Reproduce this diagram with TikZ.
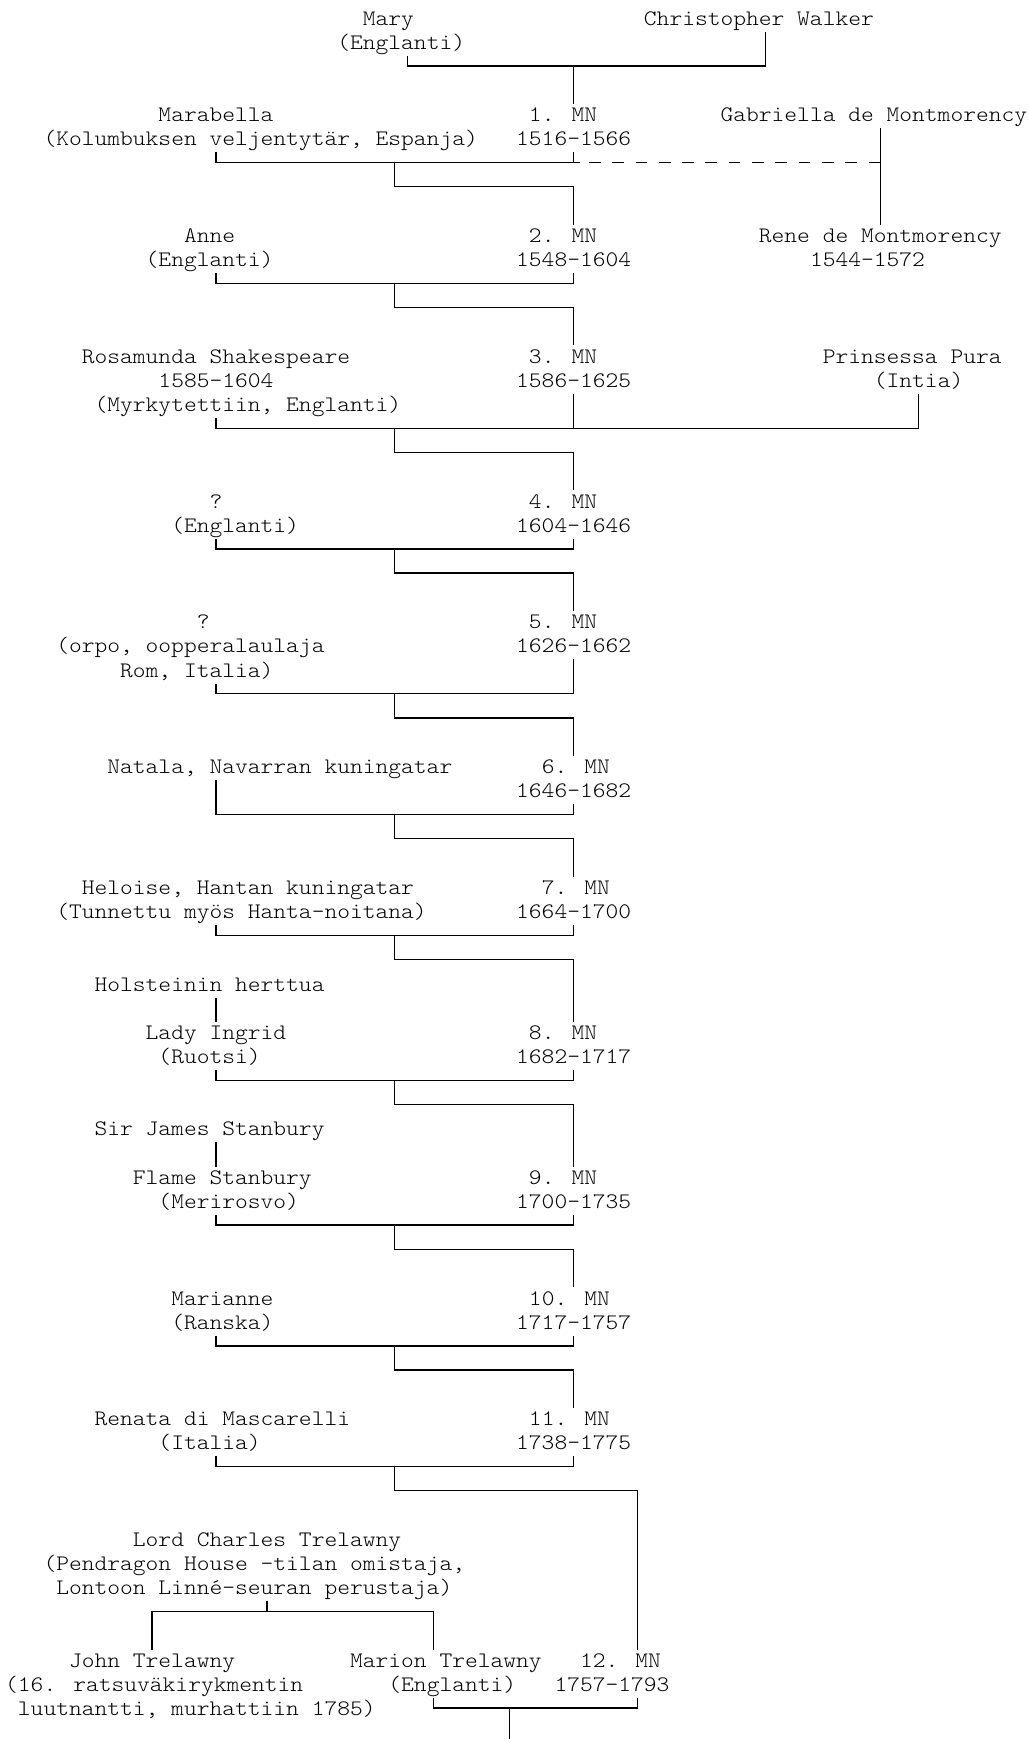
\documentclass[tikz,border=0pt]{standalone}
\usepackage{fontspec}
\newfontfamily\lmt[FakeStretch=1.1]{lmmonolt10-regular.otf}
\begin{document}
\begin{tikzpicture}[x=12.775pt,y=-24.15pt,
  txt/.style={anchor=base west,inner sep=0pt,outer sep=0pt,font=\lmt\fontsize{22.12pt}{24.15pt}\selectfont},
  ln/.style={line width=1.3pt,line cap=butt,line join=miter,black}]
\useasboundingbox[fill=white] (-0.407,-1.039) rectangle (80.14,70.97);
% ---------- texts ----------
\node[txt] (mary) at (28,0) {Mary};
\node[txt] (chris) at (50,0) {Christopher Walker};
\node[txt] (maryc) at (26,1) {(Englanti)};
\node[txt] (marab) at (12,4) {Marabella};
\node[txt] (mn1) at (41,4) {1. MN};
\node[txt] (gabr) at (56,4) {Gabriella de Montmorency};
\node[txt] (marabc) at (3,5) {(Kolumbuksen veljentytär, Espanja)};
\node[txt] (mn1y) at (40,5) {1516-1566};
\node[txt] (anne) at (14,9) {Anne};
\node[txt] (mn2) at (41,9) {2. MN};
\node[txt] (rene) at (59,9) {Rene de Montmorency};
\node[txt] (annec) at (11,10) {(Englanti)};
\node[txt] (mn2y) at (40,10) {1548-1604};
\node[txt] (reney) at (63,10) {1544-1572};
\node[txt] (rosa) at (6,14) {Rosamunda Shakespeare};
\node[txt] (mn3) at (41,14) {3. MN};
\node[txt] (pura) at (64,14) {Prinsessa Pura};
\node[txt] (rosay) at (12,15) {1585-1604};
\node[txt] (mn3y) at (40,15) {1586-1625};
\node[txt] (purac) at (68,15) {(Intia)};
\node[txt] (rosac) at (7,16) {(Myrkytettiin, Englanti)};
\node[txt] (w4) at (16,20) {?};
\node[txt] (mn4) at (41,20) {4. MN};
\node[txt] (w4c) at (13,21) {(Englanti)};
\node[txt] (mn4y) at (40,21) {1604-1646};
\node[txt] (w5) at (15,25) {?};
\node[txt] (mn5) at (41,25) {5. MN};
\node[txt] (w5c) at (4,26) {(orpo, oopperalaulaja};
\node[txt] (mn5y) at (40,26) {1626-1662};
\node[txt] (w5d) at (9,27) {Rom, Italia)};
\node[txt] (natala) at (8,31) {Natala, Navarran kuningatar};
\node[txt] (mn6) at (42,31) {6. MN};
\node[txt] (mn6y) at (40,32) {1646-1682};
\node[txt] (heloise) at (6,36) {Heloise, Hantan kuningatar};
\node[txt] (mn7) at (42,36) {7. MN};
\node[txt] (heloisec) at (4,37) {(Tunnettu myös Hanta-noitana)};
\node[txt] (mn7y) at (40,37) {1664-1700};
\node[txt] (holst) at (7,40) {Holsteinin herttua};
\node[txt] (ingrid) at (11,42) {Lady Ingrid};
\node[txt] (mn8) at (41,42) {8. MN};
\node[txt] (ingridc) at (12,43) {(Ruotsi)};
\node[txt] (mn8y) at (40,43) {1682-1717};
\node[txt] (james) at (7,46) {Sir James Stanbury};
\node[txt] (flame) at (10,48) {Flame Stanbury};
\node[txt] (mn9) at (41,48) {9. MN};
\node[txt] (flamec) at (12,49) {(Merirosvo)};
\node[txt] (mn9y) at (40,49) {1700-1735};
\node[txt] (marianne) at (13,53) {Marianne};
\node[txt] (mn10) at (41,53) {10. MN};
\node[txt] (mariannec) at (13,54) {(Ranska)};
\node[txt] (mn10y) at (40,54) {1717-1757};
\node[txt] (renata) at (7,58) {Renata di Mascarelli};
\node[txt] (mn11) at (41,58) {11. MN};
\node[txt] (renatac) at (12,59) {(Italia)};
\node[txt] (mn11y) at (40,59) {1738-1775};
\node[txt] (lord) at (10,63) {Lord Charles Trelawny};
\node[txt] (lordc) at (3,64) {(Pendragon House -tilan omistaja,};
\node[txt] (lordd) at (4,65) {Lontoon Linné-seuran perustaja)};
\node[txt] (john) at (5,68) {John Trelawny};
\node[txt] (marion) at (27,68) {Marion Trelawny};
\node[txt] (mn12) at (45,68) {12. MN};
\node[txt] (johnc) at (0,69) {(16. ratsuväkirykmentin};
\node[txt] (marionc) at (30,69) {(Englanti)};
\node[txt] (mn12y) at (43,69) {1757-1793};
\node[txt] (johnd) at (1,70) {luutnantti, murhattiin 1785)};
% ---------- connectors ----------
% Mary + Christopher Walker -> 1. MN
\coordinate (j2l) at (31.5,1.69);
\coordinate (j2m) at (44.5,1.69);
\coordinate (j2r) at (59.5,1.69);
\draw[ln] (j2l) ++(0,-0.423) -- (j2l) -- (j2r) -- ++(0,-1.423);
\draw[ln] (j2m) -- ++(0,1.577);
% generations
\foreach \R/\lu/\ru/\cd/\cc in {6/0.423/0.423/1.577/44.5, 11/0.423/0.423/1.577/44.5,
  17/0.423/1.423/1.577/44.5, 22/0.423/0.423/1.577/44.5, 28/0.423/1.423/1.577/44.5,
  33/1.423/0.423/1.577/44.5, 38/0.423/0.423/2.577/44.5, 44/0.423/0.423/2.577/44.5,
  50/0.423/0.423/1.577/44.5, 55/0.423/0.423/1.577/44.5, 60/0.423/0.423/6.577/49.5}{
  \coordinate (L\R) at (16.5,\R-0.31);
  \coordinate (T\R) at (30.5,\R-0.31);
  \coordinate (M\R) at (44.5,\R-0.31);
  \coordinate (C\R) at (\cc,\R+0.69);
  \draw[ln] (L\R) ++(0,-\lu) -- (L\R) -- (M\R) -- ++(0,-\ru);
  \draw[ln] (T\R) |- (C\R) -- ++(0,\cd);
}
% Gabriella de Montmorency -> Rene (dashed link to 1. MN)
\coordinate (G6) at (68.5,5.69);
\draw[ln] (G6) ++(0,-1.423) -- ++(0,4);
\draw[ln] (M6) -- ++(0.5,0);
\draw[ln,dash pattern=on 11.7pt off 11.6pt] (G6) -- (M6);
% Prinsessa Pura
\coordinate (P17) at (71.5,16.69);
\draw[ln] (M17) -- (P17) -- ++(0,-1.423);
% Holsteinin herttua -> Lady Ingrid, Sir James -> Flame
\coordinate (H41) at (16.5,40.267);
\coordinate (H47) at (16.5,46.267);
\draw[ln] (H41) -- ++(0,1);
\draw[ln] (H47) -- ++(0,1);
% Lord Charles Trelawny -> John, Marion
\coordinate (K1) at (11.5,65.69);
\coordinate (K2) at (20.5,65.69);
\coordinate (K3) at (33.5,65.69);
\draw[ln] (K1) ++(0,1.577) -- (K1) -- (K3) -- ++(0,1.577);
\draw[ln] (K2) -- ++(0,-0.423);
% Marion + 12. MN
\coordinate (W1) at (33.5,69.69);
\coordinate (W2) at (39.5,69.69);
\coordinate (W3) at (49.5,69.69);
\draw[ln] (W1) ++(0,-0.423) -- (W1) -- (W3) -- ++(0,-0.423);
\draw[ln] (W2) -- ++(0,1.4);
\end{tikzpicture}
\end{document}
